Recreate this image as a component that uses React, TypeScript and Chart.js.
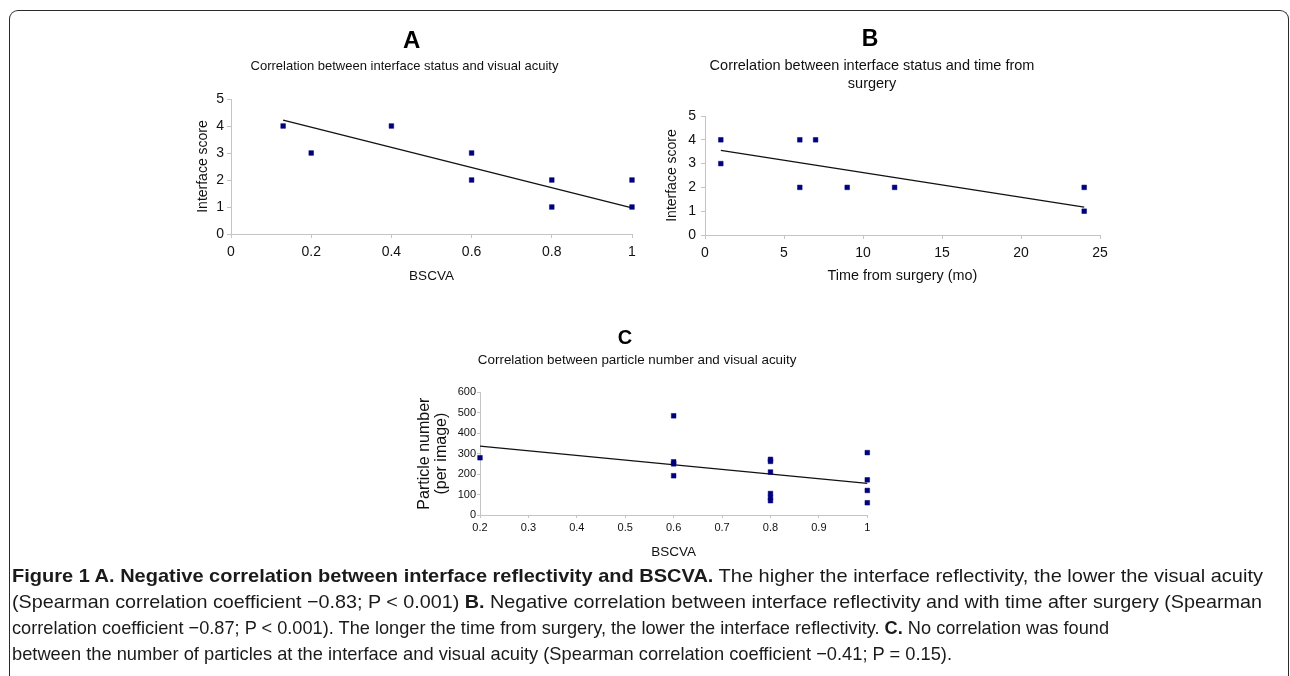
import React, { useEffect, useLayoutEffect, useRef } from "react";
import { Chart, registerables } from "chart.js";

Chart.register(...registerables);

// ---------- DATA ----------
const xTicksA = [0, 0.2, 0.4, 0.6, 0.8, 1];
const xLabelsA = ["0", "0.2", "0.4", "0.6", "0.8", "1"];
const yTicksA = [0, 1, 2, 3, 4, 5];
const bscvaA = [0.13, 0.2, 0.4, 0.6, 0.6, 0.8, 0.8, 1, 1];
const scoreA = [4, 3, 4, 3, 2, 2, 1, 2, 1];
const trendAx = [0.13, 1];
const trendAy = [4.22, 0.97];

const xTicksB = [0, 5, 10, 15, 20, 25];
const xLabelsB = ["0", "5", "10", "15", "20", "25"];
const yTicksB = [0, 1, 2, 3, 4, 5];
const monthsB = [1, 1, 6, 6, 7, 9, 12, 24, 24];
const scoreB = [4, 3, 4, 2, 4, 2, 2, 2, 1];
const trendBx = [1, 24];
const trendBy = [3.56, 1.17];

const xTicksC = [0.2, 0.3, 0.4, 0.5, 0.6, 0.7, 0.8, 0.9, 1];
const xLabelsC = ["0.2", "0.3", "0.4", "0.5", "0.6", "0.7", "0.8", "0.9", "1"];
const yTicksC = [0, 100, 200, 300, 400, 500, 600];
const bscvaC = [0.2, 0.6, 0.6, 0.6, 0.6, 0.8, 0.8, 0.8, 0.8, 0.8, 0.8, 1, 1, 1, 1];
const particlesC = [280, 485, 260, 250, 192, 272, 262, 210, 105, 85, 70, 305, 172, 120, 60];
const trendCx = [0.2, 1];
const trendCy = [337, 155];

const titleA = "Correlation between interface status and visual acuity";
const titleB = ["Correlation between interface status and time from", "surgery"];
const titleC = "Correlation between particle number and visual acuity";

const captionLines: { t: string; b?: boolean }[][] = [
  [
    { t: "Figure 1 A. Negative correlation between interface reflectivity and BSCVA.", b: true },
    { t: " The higher the interface reflectivity, the lower the visual acuity" },
  ],
  [
    { t: "(Spearman correlation coefficient \u22120.83; P < 0.001) " },
    { t: "B.", b: true },
    { t: " Negative correlation between interface reflectivity and with time after surgery (Spearman" },
  ],
  [
    { t: "correlation coefficient \u22120.87; P < 0.001). The longer the time from surgery, the lower the interface reflectivity. " },
    { t: "C.", b: true },
    { t: " No correlation was found" },
  ],
  [
    { t: "between the number of particles at the interface and visual acuity (Spearman correlation coefficient \u22120.41; P = 0.15)." },
  ],
];

// ---------- STYLE / LAYOUT ----------
const SANS = '"Liberation Sans", Arial, Helvetica, sans-serif';
const AXIS = "#c4c4c4";
const MARK = "#00007f";

type PanelSpec = {
  left: number; top: number; w: number; h: number;
  pad: { left: number; right: number; top: number; bottom: number };
  yWidth: number; xHeight: number;
  title: string | string[]; titleSize: number; titleLH: number; titlePadTop: number; titlePadBottom: number;
  yTitle: string | string[]; yTitleSize: number; yTitleLH: number; yTitlePad: number;
  xTitle: string; xTitleSize: number; xTitlePad: number;
  tickSize: number; yTickPad: number; xTickPad: number; tickLen: number;
  xMin: number; xMax: number; yMin: number; yMax: number;
  xTicks: number[]; xLabels: string[]; yTicks: number[];
  xs: number[]; ys: number[]; tx: number[]; ty: number[];
  pointR: number;
};

function Panel({ s }: { s: PanelSpec }) {
  const ref = useRef<HTMLCanvasElement | null>(null);
  useEffect(() => {
    if (!ref.current) return;
    const chart = new Chart(ref.current, {
      type: "scatter",
      data: {
        datasets: [
          {
            data: s.xs.map((x, i) => ({ x, y: s.ys[i] })),
            pointStyle: "rect",
            pointRadius: s.pointR,
            backgroundColor: MARK,
            borderColor: MARK,
            borderWidth: 0.5,
            clip: false as any,
          },
          {
            type: "line" as any,
            data: s.tx.map((x, i) => ({ x, y: s.ty[i] })),
            borderColor: "#111",
            borderWidth: 1.3,
            pointRadius: 0,
            showLine: true,
            fill: false,
            clip: false as any,
          },
        ],
      } as any,
      options: {
        animation: false,
        responsive: false,
        devicePixelRatio: 1,
        layout: { padding: s.pad },
        plugins: {
          legend: { display: false },
          tooltip: { enabled: false },
          title: {
            display: true,
            text: s.title,
            color: "#111",
            font: { family: SANS, size: s.titleSize, weight: "normal", lineHeight: s.titleLH },
            padding: { top: s.titlePadTop, bottom: s.titlePadBottom },
          },
        },
        scales: {
          x: {
            type: "linear",
            min: s.xMin,
            max: s.xMax,
            afterBuildTicks: (sc: any) => { sc.ticks = s.xTicks.map((v) => ({ value: v })); },
            afterFit: (sc: any) => { sc.height = s.xHeight; },
            ticks: {
              autoSkip: false,
              maxRotation: 0,
              color: "#111",
              padding: s.xTickPad,
              font: { family: SANS, size: s.tickSize },
              callback: (v: any) => { const i = s.xTicks.indexOf(Number(v)); return i >= 0 ? s.xLabels[i] : String(v); },
            },
            grid: { drawOnChartArea: false, drawTicks: true, tickLength: s.tickLen, color: AXIS, lineWidth: 1 },
            border: { display: true, color: AXIS, width: 1 },
            title: {
              display: true, text: s.xTitle, color: "#111",
              font: { family: SANS, size: s.xTitleSize, lineHeight: 1.2 },
              padding: s.xTitlePad,
            },
          },
          y: {
            type: "linear",
            min: s.yMin,
            max: s.yMax,
            afterBuildTicks: (sc: any) => { sc.ticks = s.yTicks.map((v) => ({ value: v })); },
            afterFit: (sc: any) => { sc.width = s.yWidth; },
            ticks: {
              autoSkip: false,
              color: "#111",
              padding: s.yTickPad,
              font: { family: SANS, size: s.tickSize },
              callback: (v: any) => String(v),
            },
            grid: { drawOnChartArea: false, drawTicks: true, tickLength: s.tickLen, color: AXIS, lineWidth: 1 },
            border: { display: true, color: AXIS, width: 1 },
            title: {
              display: true, text: s.yTitle, color: "#111",
              font: { family: SANS, size: s.yTitleSize, lineHeight: s.yTitleLH },
              padding: s.yTitlePad,
            },
          },
        },
      } as any,
    });
    return () => chart.destroy();
  }, [s]);
  return (
    <canvas
      ref={ref}
      width={s.w}
      height={s.h}
      style={{ position: "absolute", left: s.left, top: s.top, width: s.w, height: s.h }}
    />
  );
}

const specA: PanelSpec = {
  left: 177, top: 20, w: 480, h: 280,
  pad: { left: 0, right: 25, top: 0, bottom: 14 },
  yWidth: 54, xHeight: 52,
  title: titleA, titleSize: 13, titleLH: 1.2, titlePadTop: 38.9, titlePadBottom: 24.5,
  yTitle: "Interface score", yTitleSize: 14, yTitleLH: 1.2, yTitlePad: 17.9,
  xTitle: "BSCVA", xTitleSize: 13.5, xTitlePad: 1.2,
  tickSize: 14, yTickPad: 3, xTickPad: 6, tickLen: 4,
  xMin: 0, xMax: 1, yMin: 0, yMax: 5,
  xTicks: xTicksA, xLabels: xLabelsA, yTicks: yTicksA,
  xs: bscvaA, ys: scoreA, tx: trendAx, ty: trendAy, pointR: 3.3,
};

const specB: PanelSpec = {
  left: 644, top: 20, w: 480, h: 280,
  pad: { left: 0, right: 24, top: 0, bottom: 13 },
  yWidth: 61, xHeight: 52,
  title: titleB, titleSize: 14.5, titleLH: 1.2, titlePadTop: 37.5, titlePadBottom: 23.7,
  yTitle: "Interface score", yTitleSize: 14, yTitleLH: 1.2, yTitlePad: 19.6,
  xTitle: "Time from surgery (mo)", xTitleSize: 14.4, xTitlePad: 2.4,
  tickSize: 14, yTickPad: 5, xTickPad: 6, tickLen: 4,
  xMin: 0, xMax: 25, yMin: 0, yMax: 5,
  xTicks: xTicksB, xLabels: xLabelsB, yTicks: yTicksB,
  xs: monthsB, ys: scoreB, tx: trendBx, ty: trendBy, pointR: 3.3,
};

const specC: PanelSpec = {
  left: 407, top: 320, w: 480, h: 250,
  pad: { left: 0, right: 19.7, top: 0, bottom: 5 },
  yWidth: 73, xHeight: 50,
  title: titleC, titleSize: 13.4, titleLH: 1.2, titlePadTop: 32.5, titlePadBottom: 23.7,
  yTitle: ["Particle number", "(per image)"], yTitleSize: 16, yTitleLH: 1.05, yTitlePad: 9.6,
  xTitle: "BSCVA", xTitleSize: 13.5, xTitlePad: 4.9,
  tickSize: 11, yTickPad: 1, xTickPad: 3, tickLen: 3,
  xMin: 0.2, xMax: 1, yMin: 0, yMax: 600,
  xTicks: xTicksC, xLabels: xLabelsC, yTicks: yTicksC,
  xs: bscvaC, ys: particlesC, tx: trendCx, ty: trendCy, pointR: 3.3,
};

const letters = [
  { t: "A", cx: 411.7, cy: 39.5, size: 24 },
  { t: "B", cx: 870, cy: 38.5, size: 23 },
  { t: "C", cx: 625, cy: 336.7, size: 20 },
];

const captionWidths = [1251, 1250, 1097, 940];
const captionCenters = [576, 602, 628, 654];

export default function App() {
  const lineRefs = useRef<(HTMLSpanElement | null)[]>([]);
  useLayoutEffect(() => {
    lineRefs.current.forEach((el, i) => {
      if (!el) return;
      el.style.transform = "none";
      const w = el.getBoundingClientRect().width;
      if (w > 0) el.style.transform = `scaleX(${captionWidths[i] / w})`;
    });
  }, []);
  const capSize = 19;
  return (
    <div style={{ position: "absolute", left: 0, top: 0, width: 1290, height: 676, overflow: "hidden", background: "#fff" }}>
      <div
        style={{
          position: "absolute", left: 9, top: 10, width: 1280, height: 720,
          borderTop: "1.6px solid #2a2a2a", borderLeft: "1.6px solid #2a2a2a", borderRight: "1.6px solid #2a2a2a",
          borderTopLeftRadius: 9, borderTopRightRadius: 9, boxSizing: "border-box",
        }}
      />
      <Panel s={specA} />
      <Panel s={specB} />
      <Panel s={specC} />
      {letters.map((l) => (
        <div
          key={l.t}
          style={{
            position: "absolute", left: l.cx - 50, width: 100, top: l.cy - 0.49 * l.size,
            textAlign: "center", fontFamily: SANS, fontWeight: "bold", fontSize: l.size, lineHeight: `${l.size}px`, color: "#000",
          }}
        >
          {l.t}
        </div>
      ))}
      {captionLines.map((line, i) => (
        <div
          key={i}
          style={{
            position: "absolute", left: 12, top: captionCenters[i] - 13, height: 26, lineHeight: "26px",
            whiteSpace: "nowrap", fontFamily: SANS, fontSize: capSize, color: "#1a1a1a",
          }}
        >
          <span
            ref={(el) => { lineRefs.current[i] = el; }}
            style={{ display: "inline-block", transformOrigin: "0 50%" }}
          >
            {line.map((seg, j) => (
              <span key={j} style={{ fontWeight: seg.b ? "bold" : "normal" }}>{seg.t}</span>
            ))}
          </span>
        </div>
      ))}
    </div>
  );
}
